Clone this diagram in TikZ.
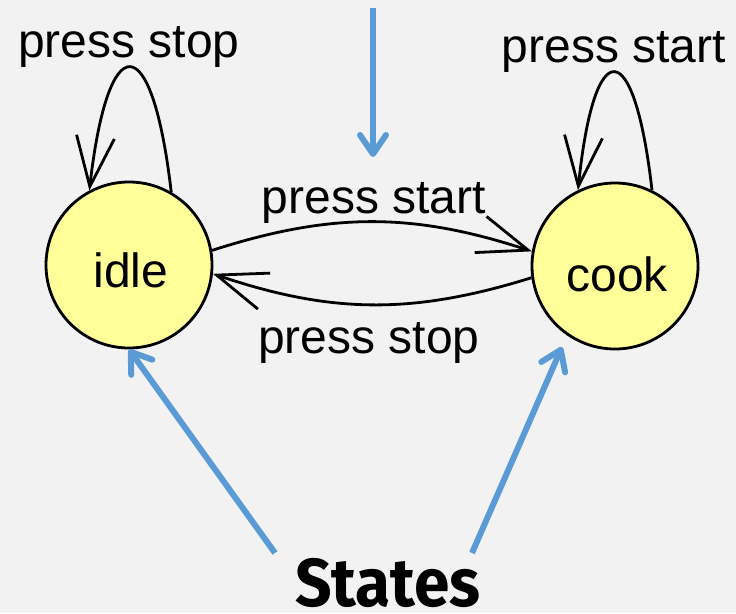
\documentclass[tikz,border=0pt]{standalone}
\usepackage{fontspec}
\setmainfont{Liberation Sans}
\newfontfamily\labelfont{Fira Sans}
\usetikzlibrary{arrows.meta}
\definecolor{bgcol}{HTML}{F2F2F2}
\definecolor{statefill}{HTML}{FFFF99}
\definecolor{pointer}{HTML}{5B9BD5}
\tikzset{
  state/.style={circle, draw=black, line width=2.8pt, fill=statefill,
    minimum size=166pt, inner sep=0pt, font=\fontsize{48}{56}\selectfont},
  lbl/.style={anchor=base, inner sep=0pt, font=\fontsize{48}{56}\selectfont},
  trans/.style={line width=2.8pt, -{Straight Barb[length=50pt, width=38pt]}},
  pointerline/.style={line width=6pt, draw=pointer,
    -{Straight Barb[length=19pt, width=26pt, round]}}
}
\begin{document}
\begin{tikzpicture}[x=1pt, y=-1pt]
  \fill[bgcol] (0,0) rectangle (736,613);
  \useasboundingbox (0,0) rectangle (736,613);

  % the two states
  \node[state] (idle) at (129,265) {};
  \node[state] (cook) at (615,266) {};
  \node[lbl] (idletxt) at (131,287) {idle};
  \node[lbl] (cooktxt) at (617,291) {cook};

  % self loops
  \draw[trans] (idle.60) .. controls (152,26) and (108,26) .. (idle.118);
  \draw[trans] (cook.64) .. controls (634,33) and (594,33) .. (cook.116);
  \node[lbl] (loopstop) at (129,57) {press stop};
  \node[lbl] (loopstart) at (614,62) {press start};

  % transitions between the states
  \draw[trans] (idle.10) to[bend left=18] (cook.170);
  \draw[trans] (cook.188) to[bend left=18] (idle.-6);
  \node[lbl] (startlbl) at (374,213) {press start};
  \node[lbl] (stoplbl) at (369,353) {press stop};

  % blue pointers
  \coordinate (topstart) at (373,8);
  \coordinate (topend) at (373,157);
  \draw[pointerline] (topstart) -- (topend);

  \node[anchor=base, inner sep=0pt, font=\labelfont\bfseries\fontsize{64}{76}\selectfont,
    yscale=1.06] (states) at (388,606) {States};
  \coordinate (leftstart) at (275,553);
  \coordinate (rightstart) at (472,553);
  \coordinate (cookpt) at (562,347);
  \draw[pointerline] (leftstart) -- (idle.south);
  \draw[pointerline] (rightstart) -- (cookpt);
\end{tikzpicture}
\end{document}
